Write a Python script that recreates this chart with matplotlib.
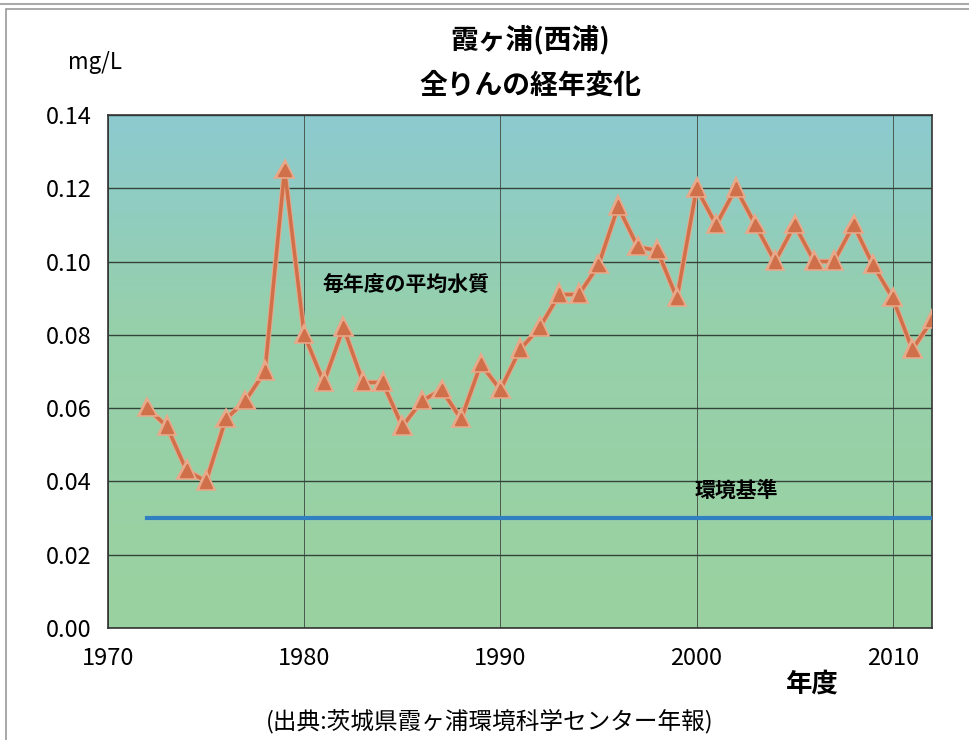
import matplotlib.pyplot as plt
import matplotlib.patheffects as pe
import numpy as np

plt.rcParams['font.family'] = ['Noto Sans CJK JP', 'DejaVu Sans']

years = list(range(1972, 2013))
phosphorus = [0.060, 0.055, 0.043, 0.040, 0.057, 0.062, 0.070, 0.125, 0.080, 0.067,
              0.082, 0.067, 0.067, 0.055, 0.062, 0.065, 0.057, 0.072, 0.065, 0.076,
              0.082, 0.091, 0.091, 0.099, 0.115, 0.104, 0.103, 0.090, 0.120, 0.110,
              0.120, 0.110, 0.100, 0.110, 0.100, 0.100, 0.110, 0.099, 0.090, 0.076,
              0.084]
standard_years = [1972, 2012]
standard = [0.03, 0.03]

xticks = [1970, 1980, 1990, 2000, 2010]
yticks = [0.00, 0.02, 0.04, 0.06, 0.08, 0.10, 0.12, 0.14]

fig = plt.figure(figsize=(9.69, 7.40), dpi=100)
ax = fig.add_axes([0.1115, 0.1514, 0.8503, 0.6932])

# gradient background: blue-ish top to green
top = np.array([140, 202, 208]) / 255
mid = np.array([150, 208, 172]) / 255
bot = np.array([155, 210, 160]) / 255
t = np.linspace(0, 1, 256)[:, None]
grad = np.where(t < 0.4, top + (mid - top) * (t / 0.4), mid + (bot - mid) * ((t - 0.4) / 0.6))
grad = np.repeat(grad[:, None, :], 2, axis=1)
ax.imshow(grad, extent=[1970, 2012, 0, 0.14], aspect='auto', zorder=0)

ax.set_xlim(1970, 2012)
ax.set_ylim(0, 0.14)
ax.set_xticks(xticks)
ax.set_yticks(yticks)
ax.set_yticklabels(['%.2f' % v for v in yticks])
ax.grid(True, axis='y', color='#34443a', linewidth=1.0, zorder=1)
ax.grid(True, axis='x', color='#4a5a50', linewidth=0.7, zorder=1)
ax.tick_params(length=0, labelsize=17)
ax.tick_params(axis='x', pad=14)
ax.tick_params(axis='y', pad=12)
for s in ax.spines.values():
    s.set_color('#333333')
    s.set_linewidth(1.2)

ax.plot(standard_years, standard, color='#2f7fc1', linewidth=3, zorder=3)
ax.plot(years, phosphorus, color='#d0704a', linewidth=2.5, marker='^', markersize=9,
        zorder=4, path_effects=[pe.Stroke(linewidth=4, foreground='#e8a88a'), pe.Normal()])

fig.text(0.547, 0.947, '霞ヶ浦(西浦)', ha='center', va='center', fontsize=20, fontweight='bold')
fig.text(0.547, 0.885, '全りんの経年変化', ha='center', va='center', fontsize=20, fontweight='bold')
fig.text(0.098, 0.916, 'mg/L', ha='center', va='center', fontsize=16)
ax.text(1980.9, 0.0935, '毎年度の平均水質', ha='left', va='center', fontsize=15, fontweight='bold')
ax.text(1999.9, 0.0375, '環境基準', ha='left', va='center', fontsize=15, fontweight='bold')
fig.text(0.838, 0.075, '年度', ha='center', va='center', fontsize=19, fontweight='bold')
fig.text(0.505, 0.025, '(出典:茨城県霞ヶ浦環境科学センター年報)', ha='center', va='center', fontsize=17)

fig.patches.append(plt.Rectangle((0.006, -0.01), 1.1, 0.998, transform=fig.transFigure,
                                 fill=False, edgecolor='#999999', linewidth=1.2))
fig.lines.append(plt.Line2D([0, 1], [0.995, 0.995], transform=fig.transFigure,
                            color='#aaaaaa', linewidth=1.5))

fig.savefig('out.png', dpi=100)
